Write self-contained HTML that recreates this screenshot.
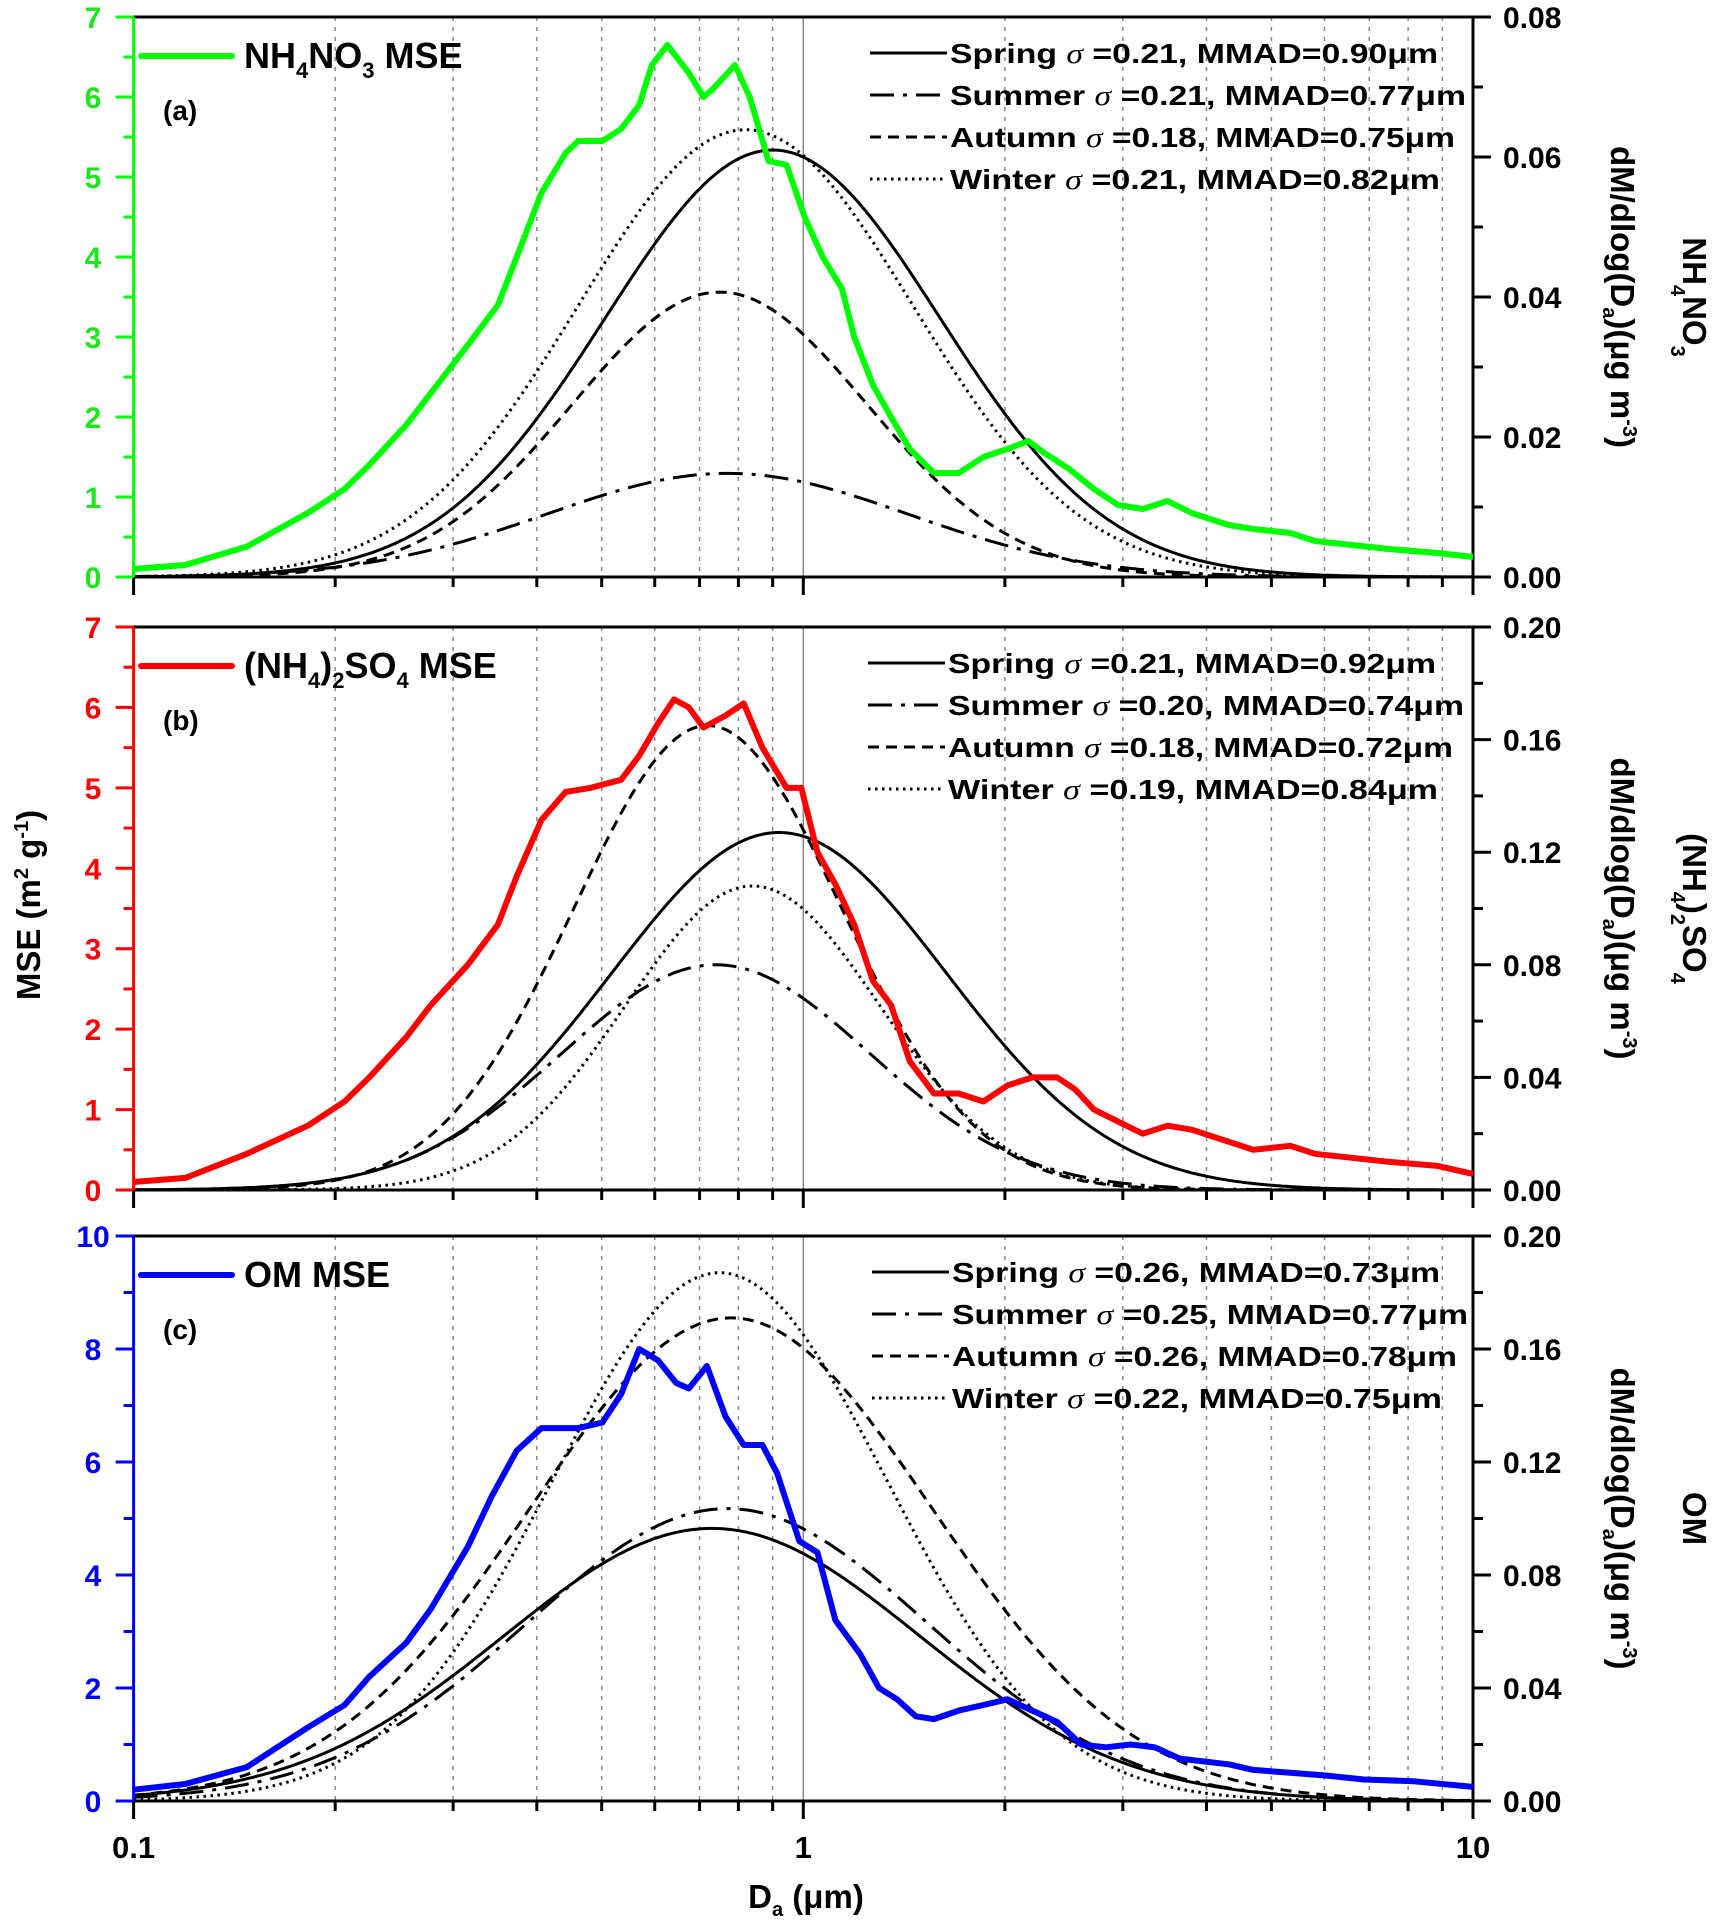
<!DOCTYPE html>
<html><head><meta charset="utf-8"><title>MSE size distributions</title>
<style>
html,body{margin:0;padding:0;background:#fff;}
svg{display:block;font-family:"Liberation Sans",sans-serif;font-weight:bold;}
</style></head>
<body>
<svg id="chart" width="1712" height="1924" viewBox="0 0 1712 1924" xmlns="http://www.w3.org/2000/svg"></svg>
<script>
// ---------- DATA ----------
const logDA = [-1.000,-0.923,-0.831,-0.740,-0.685,-0.648,-0.593,-0.556,-0.501,-0.456,-0.428,-0.391,-0.355,-0.336,-0.300,-0.272,-0.245,-0.226,-0.203,-0.171,-0.149,-0.135,-0.102,-0.080,-0.052,-0.025,0.002,0.029,0.058,0.076,0.104,0.131,0.159,0.195,0.232,0.269,0.305,0.336,0.360,0.397,0.434,0.470,0.507,0.544,0.580,0.635,0.672,0.727,0.764,0.819,0.874,0.947,1.000];
const mseA = [0.1,0.15,0.38,0.8,1.1,1.4,1.9,2.3,2.9,3.4,4.0,4.8,5.3,5.45,5.45,5.6,5.9,6.4,6.65,6.3,6.0,6.1,6.4,6.0,5.2,5.15,4.5,4.0,3.6,3.0,2.4,2.0,1.6,1.3,1.3,1.5,1.6,1.7,1.55,1.35,1.1,0.9,0.85,0.95,0.8,0.65,0.6,0.55,0.45,0.4,0.35,0.3,0.25];
const logDB = [-1.000,-0.923,-0.831,-0.740,-0.685,-0.648,-0.593,-0.556,-0.501,-0.456,-0.428,-0.391,-0.355,-0.318,-0.272,-0.245,-0.217,-0.193,-0.171,-0.149,-0.116,-0.089,-0.061,-0.025,-0.003,0.021,0.048,0.076,0.104,0.131,0.159,0.195,0.232,0.269,0.305,0.342,0.379,0.406,0.434,0.470,0.507,0.544,0.580,0.635,0.672,0.727,0.764,0.819,0.874,0.947,1.000];
const mseB = [0.1,0.15,0.45,0.8,1.1,1.4,1.9,2.3,2.8,3.3,3.9,4.6,4.95,5.0,5.1,5.4,5.8,6.1,6.0,5.75,5.9,6.05,5.5,5.0,5.0,4.2,3.8,3.3,2.6,2.3,1.6,1.2,1.2,1.1,1.3,1.4,1.4,1.25,1.0,0.85,0.7,0.8,0.75,0.6,0.5,0.55,0.45,0.4,0.35,0.3,0.2];
const logDC = [-1.000,-0.923,-0.831,-0.740,-0.685,-0.648,-0.593,-0.556,-0.501,-0.465,-0.428,-0.391,-0.336,-0.300,-0.272,-0.245,-0.217,-0.190,-0.171,-0.144,-0.116,-0.089,-0.061,-0.039,-0.006,0.021,0.048,0.085,0.113,0.140,0.168,0.195,0.232,0.269,0.305,0.342,0.379,0.415,0.452,0.489,0.525,0.562,0.635,0.672,0.727,0.782,0.837,0.910,1.000];
const mseC = [0.2,0.3,0.6,1.3,1.7,2.2,2.8,3.4,4.5,5.4,6.2,6.6,6.6,6.7,7.2,8.0,7.8,7.4,7.3,7.7,6.8,6.3,6.3,5.8,4.6,4.4,3.2,2.6,2.0,1.8,1.5,1.45,1.6,1.7,1.8,1.6,1.4,1.0,0.95,1.0,0.95,0.75,0.65,0.55,0.5,0.45,0.38,0.35,0.25];
const seasons = ["Spring","Summer","Autumn","Winter"];
const mmadA = [0.90,0.77,0.75,0.82];
const sigmaA = [0.21,0.21,0.18,0.21];
const peakA = [0.061,0.0148,0.0407,0.0639];
const widthA = [0.25,0.27,0.22,0.25];
const mmadB = [0.92,0.74,0.72,0.84];
const sigmaB = [0.21,0.20,0.18,0.19];
const peakB = [0.127,0.080,0.165,0.108];
const widthB = [0.25,0.23,0.20,0.19];
const mmadC = [0.73,0.77,0.78,0.75];
const sigmaC = [0.26,0.25,0.26,0.22];
const peakC = [0.0965,0.1035,0.171,0.187];
const widthC = [0.31,0.30,0.30,0.25];
const leftTicksA = [0,1,2,3,4,5,6,7];
const leftTicksB = [0,1,2,3,4,5,6,7];
const leftTicksC = [0,2,4,6,8,10];
const rightTicksA = [0,0.02,0.04,0.06,0.08];
const rightTicksB = [0,0.04,0.08,0.12,0.16,0.20];
const rightTicksC = [0,0.04,0.08,0.12,0.16,0.20];
const xTickLabels = ["0.1","1","10"];
const xTickValues = [0.1,1,10];

// ---------- DRAW ----------
const NS = "http://www.w3.org/2000/svg";
const svg = document.getElementById("chart");
const XL = 133.6, XR = 1473;
function xs(logd){ return XL + (logd + 1) / 2 * (XR - XL); }
function mk(tag, attrs, parent){
  const e = document.createElementNS(NS, tag);
  for (const k in attrs) e.setAttribute(k, attrs[k]);
  (parent || svg).appendChild(e);
  return e;
}
const dashes = ["", "24 9 4 9", "11 7", "2.5 4.5"];

function panel(cfg){
  const g = mk("g", {});
  
  
  const top = cfg.top, bot = cfg.bot;
  const yl = v => bot - v / cfg.lmax * (bot - top);
  const yr = v => bot - v / cfg.rmax * (bot - top);
  for (let d = 0; d < 2; d++) for (let m = 2; m <= 9; m++) {
    const x = xs(-1 + d + Math.log10(m));
    const gl = mk("line", {x1:x, x2:x, y1:top, y2:bot, stroke:"#888", "stroke-width":1.5, "stroke-dasharray":"4 6"}, g);
    
    
  }
  const one = mk("line", {x1:xs(0), x2:xs(0), y1:top, y2:bot, stroke:"#888", "stroke-width":1.5}, g);
  
  
  for (let i = 0; i < 4; i++) {
    const mu = Math.log10(cfg.mmad[i]);
    let pts = [];
    for (let k = 0; k <= 400; k++) {
      const l = -1 + k / 200;
      const v = cfg.peak[i] * Math.exp(-Math.pow(l - mu, 2) / (2 * cfg.width[i] * cfg.width[i]));
      pts.push(xs(l).toFixed(1) + "," + yr(v).toFixed(1));
    }
    const p = mk("polyline", {points:pts.join(" "), fill:"none", stroke:"#000", "stroke-width":3, "stroke-dasharray":dashes[i]}, g);
    
    
  }
  const fr = mk("path", {d:`M${XL},${top}H${XR}V${bot}H${XL}`, fill:"none", stroke:"#000", "stroke-width":3}, g);
  
  
  const la = mk("line", {x1:XL, x2:XL, y1:top, y2:bot, stroke:cfg.color, "stroke-width":3}, g);
  
  
  const mp = cfg.logd.map((l, i) => xs(l).toFixed(1) + "," + yl(cfg.mse[i]).toFixed(1)).join(" ");
  const mc = mk("polyline", {points:mp, fill:"none", stroke:cfg.color, "stroke-width":6, "stroke-linejoin":"round"}, g);
  
  
  for (let d = 0; d < 2; d++) for (let m = 1; m <= 10; m++) {
    if (d === 1 && m === 1) continue;
    const x = xs(-1 + d + Math.log10(m));
    const major = (m === 1 || m === 10);
    const t = mk("line", {x1:x, x2:x, y1:bot, y2:bot + (major ? 18 : 10), stroke:"#000", "stroke-width":3}, g);
    
    
  }
  const lstep = cfg.lticks[1] - cfg.lticks[0];
  cfg.lticks.forEach((v, i) => {
    const y = yl(v);
    const t = mk("line", {x1:XL - 18, x2:XL, y1:y, y2:y, stroke:cfg.color, "stroke-width":3}, g);
    
    
    if (i < cfg.lticks.length - 1) {
      const ym = yl(v + lstep / 2);
      const tm = mk("line", {x1:XL - 10, x2:XL, y1:ym, y2:ym, stroke:cfg.color, "stroke-width":3}, g);
      
      
    }
    const tx = mk("text", {x:93, y:y + 11, "text-anchor":"middle", "font-size":30, fill:cfg.tcolor}, g);
    tx.textContent = String(v);
    
    
  });
  const rstep = cfg.rticks[1] - cfg.rticks[0];
  cfg.rticks.forEach((v, i) => {
    const y = yr(v);
    const t = mk("line", {x1:XR, x2:XR + 18, y1:y, y2:y, stroke:"#000", "stroke-width":3}, g);
    
    
    if (i < cfg.rticks.length - 1) {
      const ym = yr(v + rstep / 2);
      const tm = mk("line", {x1:XR, x2:XR + 10, y1:ym, y2:ym, stroke:"#000", "stroke-width":3}, g);
      
      
    }
    const tx = mk("text", {x:1503, y:y + 11, "font-size":30, fill:"#000"}, g);
    tx.textContent = v.toFixed(2);
    
    
  });
  const ll = mk("line", {x1:141, x2:232, y1:top + 39, y2:top + 39, stroke:cfg.color, "stroke-width":6, "stroke-linecap":"round"}, g);
  
  
  const lt = mk("text", {x:244, y:top + 51, "font-size":36, fill:"#000"}, g);
  lt.innerHTML = cfg.label;
  
  
  const pl = mk("text", {x:163, y:top + 103, "font-size":28, fill:"#000"}, g);
  pl.textContent = cfg.tag;
  
  
  for (let i = 0; i < 4; i++) {
    const y = top + 36 + i * 42;
    const l = mk("line", {x1:cfg.legX, x2:cfg.legX + 77, y1:y, y2:y, stroke:"#000", "stroke-width":3, "stroke-dasharray":dashes[i]}, g);
    
    
    const t = mk("text", {x:cfg.legX + 80, y:y + 10, "font-size":28, fill:"#000", textLength:cfg.legLen[i], lengthAdjust:"spacingAndGlyphs"}, g);
    t.innerHTML = seasons[i] + ' <tspan font-family="Liberation Serif, serif" font-style="italic" font-weight="normal">σ</tspan> =' + cfg.sigma[i].toFixed(2) + ', MMAD=' + cfg.mmad[i].toFixed(2) + 'μm';
    
    
  }
  const cy = (top + bot) / 2;
  const rt = mk("text", {x:0, y:0, "font-size":33, fill:"#000", "text-anchor":"middle", transform:`translate(1611 ${cy}) rotate(90)`}, g);
  rt.innerHTML = 'dM/dlog(D<tspan font-size="20" dy="8">a</tspan><tspan dy="-8">)(μg m</tspan><tspan font-size="20" dy="-12">-3</tspan><tspan dy="12">)</tspan>';
  
  
  const st = mk("text", {x:0, y:0, "font-size":33, fill:"#000", "text-anchor":"middle", transform:`translate(1683 ${cy}) rotate(90)`}, g);
  st.innerHTML = cfg.species;
  
  
}

panel({name:"nh4no3", top:17, bot:577, lmax:7, rmax:0.08, color:"#00ff00", tcolor:"#1ee61e",
  logd:logDA, mse:mseA, mmad:mmadA, sigma:sigmaA, peak:peakA, width:widthA,
  lticks:leftTicksA, rticks:rightTicksA, tag:"(a)", legX:870, legLen:[488,516,505,490],
  label:'NH<tspan font-size="22" dy="10">4</tspan><tspan dy="-10">NO</tspan><tspan font-size="22" dy="10">3</tspan><tspan dy="-10"> MSE</tspan>',
  species:'NH<tspan font-size="20" dy="12">4</tspan><tspan dy="-12">NO</tspan><tspan font-size="20" dy="12">3</tspan>'});
panel({name:"nh42so4", top:627, bot:1190, lmax:7, rmax:0.20, color:"#ff0000", tcolor:"#ff0000",
  logd:logDB, mse:mseB, mmad:mmadB, sigma:sigmaB, peak:peakB, width:widthB,
  lticks:leftTicksB, rticks:rightTicksB, tag:"(b)", legX:868, legLen:[488,516,505,490],
  label:'(NH<tspan font-size="22" dy="10">4</tspan><tspan dy="-10">)</tspan><tspan font-size="22" dy="10">2</tspan><tspan dy="-10">SO</tspan><tspan font-size="22" dy="10">4</tspan><tspan dy="-10"> MSE</tspan>',
  species:'(NH<tspan font-size="20" dy="12">4</tspan><tspan dy="-12">)</tspan><tspan font-size="20" dy="12">2</tspan><tspan dy="-12">SO</tspan><tspan font-size="20" dy="12">4</tspan>'});
panel({name:"om", top:1236, bot:1801, lmax:10, rmax:0.20, color:"#0000ff", tcolor:"#0000ff",
  logd:logDC, mse:mseC, mmad:mmadC, sigma:sigmaC, peak:peakC, width:widthC,
  lticks:leftTicksC, rticks:rightTicksC, tag:"(c)", legX:872, legLen:[488,516,505,490],
  label:'OM MSE', species:'OM'});

xTickValues.forEach((v, i) => {
  const t = mk("text", {x:xs(Math.log10(v)), y:1858, "font-size":31, "text-anchor":"middle", fill:"#000"});
  t.textContent = xTickLabels[i];
  
  
});
const xt = mk("text", {x:806, y:1908, "font-size":33, "text-anchor":"middle", fill:"#000"});
xt.innerHTML = 'D<tspan font-size="20" dy="8">a</tspan><tspan dy="-8"> (μm)</tspan>';


const yt = mk("text", {x:0, y:0, "font-size":33, "text-anchor":"middle", fill:"#000", transform:"translate(40 905) rotate(-90)"});
yt.innerHTML = 'MSE (m<tspan font-size="20" dy="-12">2</tspan><tspan dy="12"> g</tspan><tspan font-size="20" dy="-12">-1</tspan><tspan dy="12">)</tspan>';


</script>
</body></html>
